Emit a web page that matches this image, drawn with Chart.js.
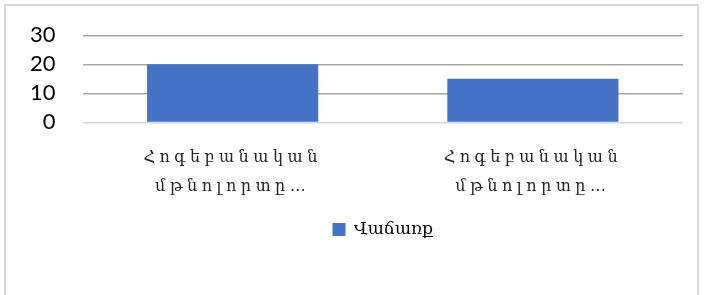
<!DOCTYPE html>
<html>
<head>
<meta charset="utf-8">
<script src="https://cdn.jsdelivr.net/npm/chart.js@4/dist/chart.umd.min.js"></script>
<style>
  html, body { margin: 0; padding: 0; background: #fff; }
  #wrap { position: relative; width: 707px; height: 295px; overflow: hidden; }
  #frame { position: absolute; left: 4px; top: 4px; width: 695px; height: 300px; border: 2px solid #d9d9d9; box-sizing: border-box; }
  #myChart { position: absolute; left: 0; top: 0; }
</style>
</head>
<body>
<div id="wrap">
  <div id="frame"></div>
  <canvas id="myChart" width="707" height="295"></canvas>
</div>
<script>
(() => {
    "use strict";

    const categories = [
        ["Հոգեբանական", "մթնոլորտը…"],
        ["Հոգեբանական", "մթնոլորտը…"],
    ];
    const seriesName = "Վաճառք";
    const sales = [20, 15];
    const yTicks = [0, 10, 20, 30];

    // letter spacing only for the category labels (drawn after the bars, z: 1)
    const spacedLabels = {
        id: "spacedLabels",
        afterDatasetsDraw(chart) { chart.ctx.letterSpacing = "4.5px"; },
        afterDraw(chart) { chart.ctx.letterSpacing = "0px"; },
    };

    const canvas = document.getElementById("myChart");
    // @ts-ignore
    new Chart(canvas, {
        type: "bar",
        data: {
            labels: categories,
            datasets: [{
                label: seriesName,
                data: sales,
                backgroundColor: "#4472c4",
                barPercentage: 0.57,
                categoryPercentage: 1,
            }],
        },
        options: {
            responsive: false,
            animation: false,
            layout: { padding: { left: 3, right: 24, top: 0, bottom: 47 } },
            scales: {
                x: {
                    grid: { display: false },
                    border: { display: false },
                    ticks: {
                        z: 1,
                        color: "#262626",
                        font: { family: "DejaVu Serif", size: 16, lineHeight: 1.8 },
                        padding: 13,
                        maxRotation: 0,
                        autoSkip: false,
                    },
                },
                y: {
                    min: yTicks[0],
                    max: yTicks[yTicks.length - 1],
                    afterBuildTicks: (axis) => { axis.ticks = yTicks.map((v) => ({ value: v })); },
                    grid: {
                        color: (c) => (c.tick && c.tick.value === 0 ? "#d9d9d9" : "#a6a6a6"),
                        lineWidth: 1.5,
                        drawTicks: false,
                    },
                    border: { display: false },
                    ticks: {
                        autoSkip: false,
                        color: "#000",
                        font: { family: "Lato", size: 22, lineHeight: 0.75 },
                        padding: 27,
                    },
                },
            },
            plugins: {
                legend: {
                    position: "bottom",
                    fullSize: false,
                    labels: {
                        color: "#000",
                        font: { family: "DejaVu Serif", size: 17 },
                        boxWidth: 13,
                        boxHeight: 13,
                        padding: 7,
                    },
                },
                tooltip: { enabled: false },
            },
        },
        plugins: [spacedLabels],
    });
})();
</script>
</body>
</html>
